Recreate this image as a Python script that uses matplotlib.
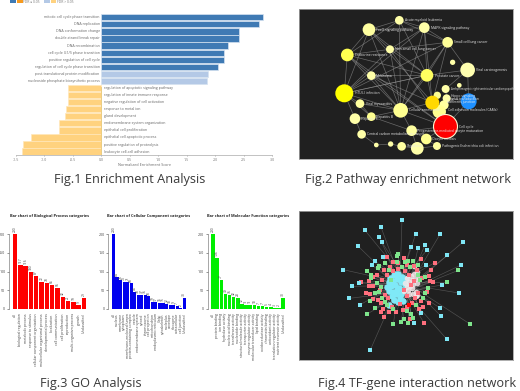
import matplotlib
matplotlib.use("Agg")
import matplotlib.pyplot as plt
from matplotlib.patches import Rectangle

W, H = 520, 391
plt.rcParams['font.family'] = ['Open Sans', 'DejaVu Sans']

# Fig.1
gsea_up_names = ["mitotic cell cycle phase transition", "DNA replication", "DNA conformation change",
                 "double-strand break repair", "DNA recombination", "cell cycle G1/S phase transition",
                 "positive regulation of cell cycle", "regulation of cell cycle phase transition",
                 "post-translational protein modification", "nucleoside phosphate biosynthetic process"]
gsea_up_vals = [2.85, 2.77, 2.42, 2.42, 2.22, 2.16, 2.15, 2.05, 1.87, 1.86]
gsea_up_cols = ["#3f7ab4"] * 8 + ["#b4c9e6"] * 2
gsea_dn_names = ["regulation of apoptotic signaling pathway", "regulation of innate immune response",
                 "negative regulation of cell activation", "response to metal ion", "gland development",
                 "endomembrane system organization", "epithelial cell proliferation",
                 "epithelial cell apoptotic process", "positive regulation of proteolysis",
                 "leukocyte cell-cell adhesion"]
gsea_dn_vals = [-0.58, -0.58, -0.59, -0.62, -0.63, -0.74, -0.75, -1.24, -1.38, -1.39]
gsea_ticks = [-1.5, -1.0, -0.5, 0.0, 0.5, 1.0, 1.5, 2.0, 2.5, 3.0]

# Fig.2 nodes, x, y, radius in reference crop units
path_x = [328, 403, 237, 473, 300, 172, 488, 533, 411, 244, 508, 467, 163, 442, 470, 462, 448, 427, 536,
          210, 332, 195, 244, 365, 215, 409, 259, 302, 335, 382, 441, 466]
path_y = [61, 83, 89, 127, 148, 165, 187, 210, 226, 227, 256, 267, 280, 286, 295, 315, 335, 308, 304,
          311, 331, 356, 350, 392, 403, 417, 435, 432, 439, 445, 438, 379]
path_r = [13, 16, 19, 16, 12, 19, 8, 22, 19, 13, 7, 12, 27, 11, 12, 14, 20, 21, 24,
          13, 22, 16, 13, 16, 13, 16, 7, 8, 13, 19, 12, 36]
path_c = ["#ffffa8", "#ffffa8", "#ffffa0", "#ffff98", "#ffffa8", "#ffff50", "#ffffa8", "#ffffb0", "#ffff60",
          "#ffffa8", "#ffffa8", "#ffffa8", "#ffff00", "#ffff90", "#ffffa8", "#ffffa0", "#ffff90", "#ffd800",
          "#1e90ff", "#ffffa0", "#ffff90", "#ffffa8", "#ffff90", "#ffffa0", "#ffffa8", "#ffff90", "#ffffa8",
          "#ffffa8", "#ffffa0", "#ffffa8", "#ffffa0", "#ff0000"]
path_labels = [(345, 61, "Acute myeloid leukemia"), (424, 83, "MAPK signaling pathway"),
               (258, 89, "FoxO signaling pathway"), (492, 127, "Small cell lung cancer"),
               (314, 148, "Non-small cell lung cancer"), (196, 165, "Endocrine resistance"),
               (558, 211, "Viral carcinogenesis"), (434, 227, "Prostate cancer"), (258, 227, "Melanoma"),
               (482, 267, "Arrhythmogenic right ventricular cardiomyopathy"), (195, 280, "HTLV-I infection"),
               (482, 287, "Hippo signaling"), (478, 296, "Signal transduction"),
               (470, 305, "Adherens junction"), (228, 311, "Viral myocarditis"),
               (356, 331, "Cellular senescence"), (475, 331, "Cell adhesion molecules (CAMs)"),
               (212, 356, "Hepatitis C"), (258, 352, "Hepatitis B"), (506, 380, "Cell cycle"),
               (382, 392, "Progesterone-mediated oocyte maturation"), (232, 403, "Central carbon metabolism in cancer"),
               (425, 417, "Oocyte meiosis"), (455, 438, "Pathogenic Escherichia coli infection"),
               (350, 439, "Shigellosis")]
path_edges = [(0, 1), (0, 2), (0, 5), (0, 3), (1, 2), (1, 3), (1, 4), (1, 8), (2, 4), (2, 5), (2, 8), (2, 12),
              (3, 4), (3, 7), (3, 8), (3, 20), (4, 5), (4, 8), (4, 12), (4, 20), (5, 9), (5, 12), (5, 20), (5, 8),
              (7, 8), (7, 11), (7, 18), (8, 9), (8, 12), (8, 17), (8, 20), (9, 12), (9, 20), (9, 17), (12, 19),
              (12, 20), (12, 21), (12, 22), (12, 8), (19, 20), (19, 22), (20, 22), (20, 23), (20, 31), (20, 17),
              (21, 22), (21, 24), (22, 23), (23, 31), (23, 25), (23, 29), (24, 26), (26, 27), (27, 28), (28, 29),
              (29, 30), (25, 31), (25, 30), (17, 31), (16, 31), (11, 14), (13, 17), (14, 18), (1, 12), (0, 8),
              (2, 20), (3, 12), (0, 20), (1, 20), (5, 31), (9, 31), (4, 31), (2, 17), (1, 17), (3, 17), (18, 31)]

# Fig.3
bp_names = ["all", "biological regulation", "metabolic process", "response to stimulus",
            "cellular component organization", "multicellular organismal process", "developmental process",
            "localization", "cell communication", "cell proliferation", "reproduction",
            "multi-organism process", "growth", "Unclassified"]
bp_vals = [200, 117, 116, 100, 87, 72, 70, 65, 56, 32, 21, 19, 9, 29]
cc_names = ["all", "nucleus", "membrane", "cytoplasm", "membrane-enclosed lumen", "protein-containing complex",
            "vesicle", "endomembrane system", "cytosol", "chromosome", "cell projection", "mitochondrion",
            "endoplasmic reticulum", "Golgi", "cytoskeleton", "nucleolus", "envelope", "ribosome",
            "extracellular", "cell junction", "Unclassified"]
cc_vals = [200, 84, 76, 73, 71, 68, 46, 38, 37, 36, 33, 19, 17, 16, 15, 12, 10, 9, 7, 2, 30]
mf_names = ["all", "protein binding", "ion binding", "hydrolase activity", "nucleic acid binding", "transferase activity",
            "nucleotide binding", "structural molecule activity", "transporter activity", "enzyme regulator activity",
            "molecular transducer activity", "lipid binding", "oxidoreductase activity", "chromatin binding",
            "antioxidant activity", "translation regulator activity", "nutrient reservoir activity", "Unclassified"]
mf_vals = [200, 136, 77, 39, 36, 32, 28, 12, 11, 11, 10, 7, 7, 5, 4, 3, 2, 30]

# Fig.4 nodes in reference crop units
tf_cyan_x = [336, 225, 273, 377, 450, 520, 268, 276, 204, 362, 384, 405, 411, 472, 513, 160, 187, 178, 209, 507,
             455, 449, 454, 470, 241, 393, 372, 278, 256, 245, 408, 208, 300, 312, 324, 336, 348, 296, 308, 320,
             332, 344, 290, 302, 314, 326, 338, 298, 310, 322, 334, 306, 318, 330, 312, 324, 296, 318, 340]
tf_cyan_y = [76, 106, 96, 117, 118, 140, 127, 142, 153, 155, 160, 150, 165, 181, 210, 224, 274, 310, 330, 294,
             270, 338, 364, 432, 465, 353, 385, 187, 199, 209, 209, 264, 248, 240, 236, 245, 252, 262, 258, 252,
             262, 268, 275, 272, 270, 278, 284, 288, 290, 286, 296, 302, 298, 308, 316, 322, 330, 236, 318]
tf_pink_x = [292, 343, 393, 434, 310, 325, 350, 300, 372, 283, 262, 248, 236, 213, 248, 237, 229, 240, 270, 263,
             250, 273, 278, 296, 281, 272, 318, 330, 352, 398, 393, 418, 403, 360, 388, 423, 417, 420, 428, 345,
             325, 310, 290, 275, 285, 295, 305, 340, 365, 375, 385, 395, 380, 358, 410, 342, 362, 352, 372]
tf_pink_y = [187, 188, 192, 203, 200, 205, 210, 215, 213, 225, 240, 247, 258, 262, 272, 272, 295, 298, 285, 315,
             313, 325, 342, 350, 365, 352, 352, 328, 335, 337, 318, 325, 385, 372, 342, 226, 242, 258, 260, 228,
             222, 228, 240, 255, 300, 310, 335, 345, 325, 310, 295, 250, 225, 240, 290, 285, 270, 302, 258]
tf_green_x = [325, 322, 355, 370, 383, 345, 285, 268, 230, 242, 242, 263, 298, 303, 262, 272, 267, 255, 240, 256,
              275, 290, 285, 310, 350, 362, 368, 341, 354, 334, 310, 404, 415, 406, 398, 378, 390, 385, 360, 320,
              335, 505, 472, 540, 230]
tf_green_y = [176, 182, 198, 197, 210, 200, 205, 213, 229, 240, 248, 220, 225, 255, 265, 275, 290, 295, 318, 340,
              310, 330, 320, 342, 348, 358, 368, 373, 383, 381, 387, 246, 280, 295, 310, 330, 255, 240, 215, 200,
              215, 226, 262, 387, 358]
tf_white_x = [352, 362, 372, 382, 346, 356, 366, 376, 386, 350, 360, 370, 380, 342, 354, 366, 378, 358, 370, 382, 372, 378]
tf_white_y = [250, 244, 238, 232, 264, 260, 256, 252, 248, 276, 272, 268, 264, 288, 284, 280, 292, 298, 296, 300, 212, 302]
tf_hub_x = [330, 360, 345]
tf_hub_y = [262, 270, 290]

fig = plt.figure(figsize=(W / 100, H / 100), dpi=100, facecolor="white")


def panel(x0, y0, x1, y1):
    return fig.add_axes([x0 / W, 1 - y1 / H, (x1 - x0) / W, (y1 - y0) / H])


def pt(r):
    return (2 * r * 0.72 / 3) ** 2


# captions and top legend
bg = panel(0, 0, W, H)
bg.set_xlim(0, W)
bg.set_ylim(H, 0)
bg.axis("off")
for x0, c in [(10, "#3f7ab4"), (17, "#f79a1e"), (44, "#b4c9e6"), (50.5, "#ffd27f")]:
    bg.add_patch(Rectangle((x0, 0), 5.5, 3, color=c, lw=0))
bg.text(23, 1.6, "FDR ≤ 0.05", fontsize=2.4, color="#777777", va="center")
bg.text(57, 1.6, "FDR > 0.05", fontsize=2.4, color="#777777", va="center")
cap = dict(fontsize=9.2, color="#3a3a3a", va="center", ha="left")
bg.text(54, 180, "Fig.1 Enrichment Analysis", **cap)
bg.text(305, 179, "Fig.2 Pathway enrichment network", **cap)
bg.text(40, 383, "Fig.3 GO Analysis", **cap)
bg.text(318, 383, "Fig.4 TF-gene interaction network", **cap)

# Fig.1 enrichment bars
ax = panel(16, 10, 272, 155)
ax.set_xlim(-1.5, 3.0)
ax.set_ylim(19.48, -1.03)
ax.barh(range(10), gsea_up_vals, height=0.88, color=gsea_up_cols, edgecolor="#d5e2f0", linewidth=0.5)
ax.barh(range(10, 20), gsea_dn_vals, height=0.88, color="#ffd27f", edgecolor="#ffe7ba", linewidth=0.5)
ax.axvline(0, ymin=0, ymax=0.47, color="#e8c878", lw=0.6)
for i, name in enumerate(gsea_up_names):
    ax.text(-0.03, i, name, ha="right", va="center", fontsize=2.6, color="#666666")
for i, name in enumerate(gsea_dn_names):
    ax.text(0.05, i + 10, name, ha="left", va="center", fontsize=2.6, color="#666666")
for s in ["top", "left", "right"]:
    ax.spines[s].set_visible(False)
ax.spines["bottom"].set_color("#aaaaaa")
ax.spines["bottom"].set_linewidth(0.5)
ax.set_yticks([])
ax.set_xticks(gsea_ticks)
ax.set_xticklabels(["%.1f" % t for t in gsea_ticks])
ax.tick_params(axis="x", labelsize=2.6, length=1, width=0.4, pad=0.8, colors="#777777")
ax.set_xlabel("Normalized Enrichment Score", fontsize=2.7, color="#666666", labelpad=1)
ax.patch.set_alpha(0)

# Fig.2 pathway network
ax = panel(299.3, 9.3, 513.3, 159)
ax.set_xlim(28, 670)
ax.set_ylim(477, 28)
ax.set_facecolor("#202020")
for a, b in path_edges:
    ax.plot([path_x[a], path_x[b]], [path_y[a], path_y[b]], color="#999999", lw=0.5, alpha=0.6, zorder=1)
ax.scatter(path_x[:-1], path_y[:-1], s=[pt(r) for r in path_r[:-1]], c=path_c[:-1], linewidths=0, zorder=2)
ax.scatter(path_x[-1:], path_y[-1:], s=pt(path_r[-1]), c=path_c[-1:], edgecolors="#fff6d0", linewidths=0.8, zorder=3)
for x, y, s in path_labels:
    # the longest name only just fits inside the panel
    ax.text(x, y, s, fontsize=2.4 if len(s) < 42 else 2.0, color="#e8e8e8", va="center", ha="left", zorder=4)
ax.set_xticks([])
ax.set_yticks([])
for s in ax.spines.values():
    s.set_color("#a0a0a0")
    s.set_linewidth(0.6)


# Fig.3 GO bars
def go_bars(x0, x1, title, title_x, names, vals, color):
    a = panel(x0, 234.3 - 10, x1, 308.7)
    a.set_xlim(0, len(vals))
    a.set_ylim(0, 200 * (84.4 / 74.4))
    xs = [i + 0.5 for i in range(len(vals))]
    a.bar(xs, vals, width=0.86, color=color, linewidth=0)
    for x, v, n in zip(xs, vals, names):
        a.text(x, v + 5, str(v), rotation=90, fontsize=2.4, ha="center", va="bottom", color="#444444")
        a.text(x, -12, n, rotation=90, fontsize=2.5, ha="center", va="top", color="#444444", clip_on=False)
    a.set_xticks([])
    a.set_yticks([0, 50, 100, 150, 200])
    a.tick_params(axis="y", labelsize=2.6, length=1.5, width=0.4, pad=1, colors="#444444")
    for s in ["top", "right", "bottom"]:
        a.spines[s].set_visible(False)
    a.spines["left"].set_position(("outward", 2.5))
    a.spines["left"].set_bounds(0, 200)
    a.spines["left"].set_linewidth(0.4)
    a.spines["left"].set_color("#666666")
    a.patch.set_alpha(0)
    bg.text(title_x, 216, title, fontsize=2.75, fontweight="bold", color="#222222", va="center", ha="center")


go_bars(12.3, 86.7, "Bar chart of Biological Process categories", 49.5, bp_names, bp_vals, "#ff0000")
go_bars(111.7, 186, "Bar chart of Cellular Component categories", 149, cc_names, cc_vals, "#0000ee")
go_bars(211, 285.3, "Bar chart of Molecular Function categories", 248, mf_names, mf_vals, "#00ee00")

# Fig.4 TF-gene network
ax = panel(299.3, 210.7, 513.3, 360)
ax.set_xlim(28, 670)
ax.set_ylim(495, 47)
ax.set_facecolor("#202020")
for xs, ys in [(tf_cyan_x, tf_cyan_y), (tf_green_x, tf_green_y), (tf_pink_x, tf_pink_y)]:
    for i, (x, y) in enumerate(zip(xs, ys)):
        hub = i % len(tf_hub_x)
        ax.plot([x, tf_hub_x[hub]], [y, tf_hub_y[hub]], color="#8f8f8f", lw=0.45, alpha=0.45, zorder=1)
ax.scatter(tf_cyan_x[32:], tf_cyan_y[32:], s=22, c="#7fe9f7", linewidths=0, zorder=2)
ax.scatter(tf_white_x, tf_white_y, s=16, c="#f3e6e8", linewidths=0, alpha=0.85, zorder=3)
ax.scatter(tf_pink_x, tf_pink_y, s=7.5, c="#ff6f7d", marker="s", linewidths=0, zorder=4)
ax.scatter(tf_green_x, tf_green_y, s=7.5, c="#7fe58c", marker="s", linewidths=0, zorder=5)
ax.scatter(tf_cyan_x[:32], tf_cyan_y[:32], s=7.5, c="#7fe6f5", marker="s", linewidths=0, zorder=5)
ax.scatter([358], [330], s=8, c="#ff0000", marker="s", linewidths=0, zorder=6)
ax.set_xticks([])
ax.set_yticks([])
for s in ax.spines.values():
    s.set_color("#a0a0a0")
    s.set_linewidth(0.6)

fig.savefig("out.png", dpi=100, facecolor="white")
